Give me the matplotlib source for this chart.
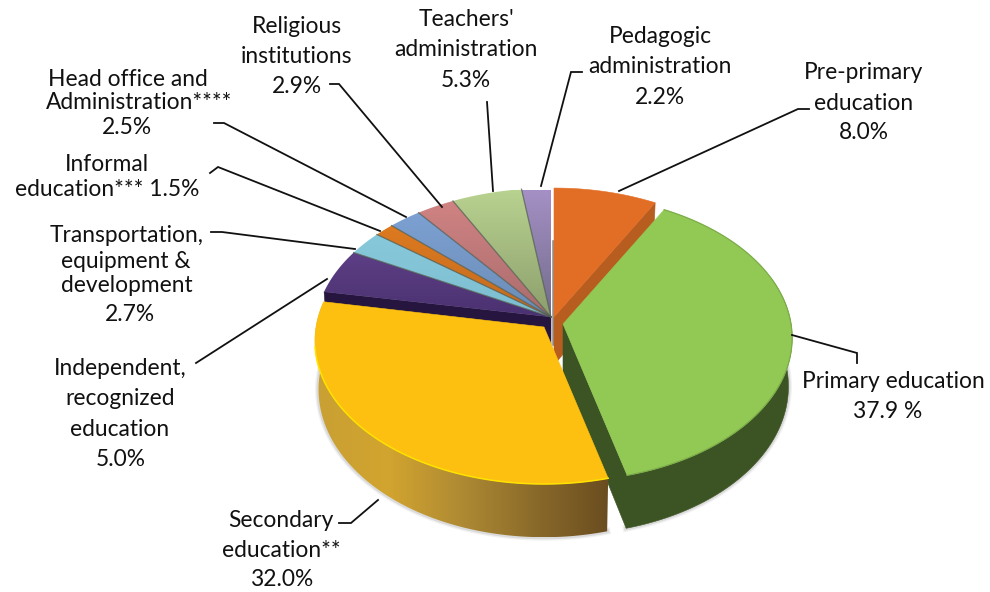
#!/usr/bin/env python3
"""
Education budget shares drawn as an exploded 3D-style pie with leader lines
"""

import numpy as np
import matplotlib
matplotlib.use('Agg')
import matplotlib.pyplot as plt
from matplotlib.colors import LinearSegmentedColormap
from matplotlib.patches import Polygon

# Shares in percent, clockwise from twelve o'clock
categories = ['Pre-primary', 'Primary', 'Secondary', 'Independent', 'Transportation',
              'Informal', 'Head office', 'Religious', 'Teachers', 'Pedagogic']
values = [8.0, 37.9, 32.0, 5.0, 2.7, 1.5, 2.5, 2.9, 5.3, 2.2]

# Label lines: text, centre x, baseline y
label_lines = [
    ('Religious', 297, 33), ('institutions', 297, 63), ('2.9%', 297, 93),
    ("Teachers'", 466, 26), ('administration', 466, 56), ('5.3%', 466, 87),
    ('Pedagogic', 660, 43), ('administration', 660, 73), ('2.2%', 660, 104),
    ('Pre-primary', 864, 79), ('education', 864, 110), ('8.0%', 864, 139),
    ('Primary education', 893, 388), ('37.9 %', 888, 418),
    ('Head office and', 128, 86), ('Administration****', 139, 109), ('2.5%', 127, 134),
    ('Informal', 107, 171), ('education*** 1.5%', 107, 196),
    ('Transportation,', 127, 242), ('equipment &', 126, 268), ('development', 127, 292), ('2.7%', 130, 321),
    ('Independent,', 120, 375), ('recognized', 120, 405), ('education', 120, 436), ('5.0%', 121, 466),
    ('Secondary', 281, 527), ('education**', 281, 557), ('32.0%', 283, 586),
]

leaders = [
    [(330, 84), (339, 84), (442, 207)],
    [(487, 102), (493, 191)],
    [(582, 72), (571, 72), (541, 186)],
    [(809, 109), (798, 109), (619, 191)],
    [(792, 335), (857, 353), (857, 363)],
    [(214, 123), (224, 123), (406, 217)],
    [(210, 173), (218, 167), (380, 231)],
    [(211, 232), (222, 232), (355, 249)],
    [(196, 363), (327, 279)],
    [(339, 523), (351, 523), (378, 500)],
]

# Perspective settings for the pie, in pixels
RADIUS = 228
HEIGHT = 141.6
DEPTH = 48
PERSP = 0.098
GROUP_STRETCH = 1.03
apex = {'Pre-primary': (554, 317), 'Primary': (563, 324), 'Secondary': (544, 327)}
group_apex = (551, 317)

# Top colours: (rim, centre)
top_colors = {
    'Pre-primary': ('#e26e26', '#e26e26'),
    'Primary': ('#92c955', '#92c955'),
    'Secondary': ('#fdc010', '#fdc010'),
    'Independent': ('#6e4c98', '#49306f'),
    'Transportation': ('#8dd0e0', '#7cbcd0'),
    'Informal': ('#e8801f', '#c06a20'),
    'Head office': ('#80a5d8', '#6a8bb5'),
    'Religious': ('#d48585', '#a86b6b'),
    'Teachers': ('#b8d290', '#8b9c6b'),
    'Pedagogic': ('#a590c5', '#6f6a88'),
}


def project(theta, origin, z=0.0, stretch=1.0):
    # theta in degrees clockwise from the back of the pie, z = 1 is the bottom face
    u = np.sin(np.radians(theta))
    v = np.cos(np.radians(theta))
    s = 1 / (1 + PERSP * v)
    x = origin[0] + RADIUS * stretch * u * s * (1 - 0.016 * z)
    y = origin[1] - HEIGHT * v * s + DEPTH * s * z
    return np.column_stack([x, y])


def arc(a0, a1, origin, z=0.0, stretch=1.0):
    return project(np.linspace(a0, a1, 120), origin, z, stretch)


fig, ax = plt.subplots(figsize=(9.9, 5.92), dpi=100)
ax.set_position([0, 0, 1, 1])
ax.axis('off')
order = [10]


def next_z():
    order[0] += 1
    return order[0]


def fill(points, color):
    ax.add_patch(Polygon(points, closed=True, facecolor=color, edgecolor=color,
                         linewidth=0.4, zorder=next_z()))


def fill_gradient(points, stops, vertical=True, span=None):
    # Gradient image clipped to the polygon
    points = np.asarray(points)
    x0, y0 = points.min(axis=0)
    x1, y1 = points.max(axis=0)
    if span is not None:
        if vertical:
            y0, y1 = span
        else:
            x0, x1 = span
    cmap = LinearSegmentedColormap.from_list('grad', stops)
    ramp = np.linspace(0, 1, 256)
    grad = ramp.reshape(-1, 1) if vertical else ramp.reshape(1, -1)
    z = next_z()
    im = ax.imshow(grad, extent=[x0, x1, y1, y0], cmap=cmap, aspect='auto', zorder=z)
    clip = Polygon(points, closed=True, transform=ax.transData, facecolor='none', edgecolor='none')
    ax.add_patch(clip)
    im.set_clip_path(clip)


# Slice angles from the shares
total = sum(values)
edges = np.concatenate([[0], np.cumsum(values)]) / total * 360
start = dict(zip(categories, edges[:-1]))
end = dict(zip(categories, edges[1:]))

# Soft shadow below the front walls
yellow_bottom = arc(start['Secondary'], 272, apex['Secondary'], 1)
green_bottom = arc(75, end['Primary'], apex['Primary'], 1)
for outline in (yellow_bottom, green_bottom):
    for lw, alpha in ((5, 0.08), (3, 0.14)):
        ax.plot(outline[:, 0], outline[:, 1], color='#555555', lw=lw, alpha=alpha, zorder=next_z())

# Dark radial wall of the purple slice, mostly hidden by the yellow slice
a = start['Independent']
rim_top = project(a, group_apex, stretch=GROUP_STRETCH)[0]
rim_low = project(a, group_apex, 1, GROUP_STRETCH)[0]
fill([group_apex, rim_top, rim_low, (group_apex[0], group_apex[1] + DEPTH)], '#26163f')

# Small slices at the back
for name in categories[3:]:
    rim = arc(start[name], end[name], group_apex, stretch=GROUP_STRETCH)
    poly = np.vstack([[group_apex], rim])
    rim_c, centre_c = top_colors[name]
    fill_gradient(poly, [rim_c, centre_c], span=(190, 322))
for name in categories[4:]:
    p = project(start[name], group_apex, stretch=GROUP_STRETCH)[0]
    ax.plot([group_apex[0], p[0]], [group_apex[1], p[1]], color='#4f5a4f', lw=0.9, alpha=0.75, zorder=next_z())

# Grey wall showing between the lavender and orange slices
fill([(552, 240), (555, 240), (555, 345), (552, 345)], '#8f8f8f')

# Pre-primary: radial wall then top
a = end['Pre-primary']
o = apex['Pre-primary']
rim_top = project(a, o)[0]
rim_low = project(a, o, 1)[0]
fill([o, rim_top, rim_low, (o[0], o[1] + DEPTH)], '#b75d20')
fill(np.vstack([[o], arc(start['Pre-primary'], a, o)]), top_colors['Pre-primary'][0])

# Primary: outer and radial wall as one shape, then top
o = apex['Primary']
a0, a1 = start['Primary'], end['Primary']
wall = np.vstack([arc(70, a1, o), [o], [(o[0], o[1] + DEPTH)], arc(70, a1, o, 1)[::-1]])
fill(wall, '#3c5424')
top = np.vstack([[o], arc(a0, a1, o)])
fill(top, top_colors['Primary'][0])
rim = arc(a0, a1, o)
ax.plot(rim[:, 0], rim[:, 1], color='#7dad4a', lw=0.9, zorder=next_z())

# Secondary: outer wall with a left-to-right gradient, then top
o = apex['Secondary']
a0, a1 = start['Secondary'], end['Secondary']
wall = np.vstack([arc(a0, a1, o), arc(a0, a1, o, 1)[::-1]])
fill_gradient(wall, ['#c9a034', '#d2a42f', '#ae8a33', '#8a6a2a', '#6a4d20'], vertical=False)
top = np.vstack([[o], arc(a0, a1, o)])
fill(top, top_colors['Secondary'][0])
rim = arc(a0, 262, o)
ax.plot(rim[:, 0], rim[:, 1], color='#ffe200', lw=1.1, zorder=next_z())

# Leader lines
for line in leaders:
    xs, ys = zip(*line)
    ax.plot(xs, ys, color='#111111', lw=1.3, solid_joinstyle='miter', zorder=500)

# Labels
for text, x, y in label_lines:
    ax.text(x, y, text, ha='center', va='baseline', fontsize=16.4, family='Lato',
            color='#111111', zorder=600)

ax.set_xlim(0, 990)
ax.set_ylim(592, 0)
fig.savefig('out.png', dpi=100, facecolor='white')
